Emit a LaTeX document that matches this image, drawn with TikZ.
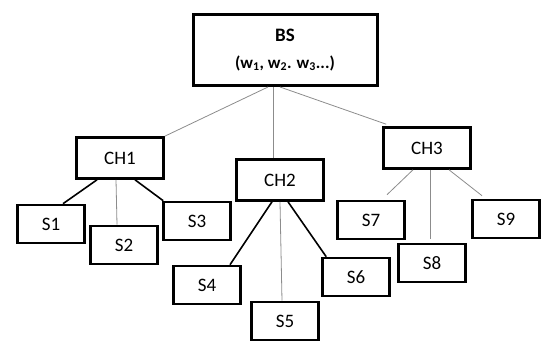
\documentclass[tikz,border=0pt]{standalone}
\usepackage{fontspec}
\setmainfont{Carlito}
\usetikzlibrary{calc}

\begin{document}
\begin{tikzpicture}[x=1pt, y=-1pt,
      head/.style={draw=black, line width=3pt, fill=white, inner sep=0pt,
        minimum width=184pt, minimum height=71pt, align=center,
        font=\fontsize{19}{28}\selectfont\bfseries},
      ch/.style={draw=black, line width=2.6pt, fill=white, inner sep=0pt,
        minimum width=87pt, minimum height=41pt, font=\fontsize{19}{22}\selectfont},
      sn/.style={draw=black, line width=2.6pt, fill=white, inner sep=0pt,
        minimum width=67pt, minimum height=38pt, font=\fontsize{19}{22}\selectfont},
      weak/.style={draw=black!45, line width=0.8pt},
      strong/.style={draw=black, line width=1.6pt}]
    \useasboundingbox (0,0) rectangle (554,349);
    \coordinate (b1) at (268,86);
    \coordinate (b2) at (273,86);
    \coordinate (b3) at (280,86);
    \node[head] (bs) at (285,50) {BS\\[-1pt]{\fontsize{17}{20}\selectfont(w\textsubscript{1}, w\textsubscript{2}. w\textsubscript{3}...)}};
    \node[ch] (ch1) at (120,158) {CH1};
    \node[ch] (ch2) at (280,180) {CH2};
    \node[ch] (ch3) at (427,148) {CH3};
    \node[sn] (s1) at (51,224) {S1};
    \node[sn] (s2) at (124,245) {S2};
    \node[sn] (s3) at (197,221) {S3};
    \node[sn] (s4) at (207,285) {S4};
    \node[sn] (s5) at (285,321) {S5};
    \node[sn] (s6) at (356,277) {S6};
    \node[sn] (s7) at (371,220) {S7};
    \node[sn] (s8) at (432,263) {S8};
    \node[sn] (s9) at (506,219) {S9};
    % base station to cluster heads
    \draw[weak] (bs.south -| b1) -- (ch1.north east);
    \draw[weak] (bs.south -| b2) -- (ch2.north -| b2);
    \draw[weak] (bs.south -| b3) -- ($(ch3.north west)+(4,-2)$);
    % cluster heads to sensors
    \draw[strong] ($(ch1.south)+(-23,0)$) -- ($(s1.north)+(12,0)$);
    \draw[weak] ($(ch1.south)+(-4,0)$) -- ($(s2.north)+(-7,0)$);
    \draw[strong] ($(ch1.south)+(15,0)$) -- ($(s3.north west)+(1,0)$);
    \draw[strong] ($(ch2.south)+(-8,0)$) -- ($(s4.north)+(23,0)$);
    \draw[weak] ($(ch2.south)+(0,0)$) -- ($(s5.north)+(-3,0)$);
    \draw[strong] ($(ch2.south)+(8,0)$) -- ($(s6.north west)+(5,0)$);
    \draw[weak] ($(ch3.south)+(-14,0)$) -- ($(s7.north)+(16,-5)$);
    \draw[weak] ($(ch3.south)+(3,0)$) -- ($(s8.north)+(-2,-4)$);
    \draw[weak] ($(ch3.south)+(22,0)$) -- ($(s9.north)+(-24,-3)$);
  \end{tikzpicture}
\end{document}
